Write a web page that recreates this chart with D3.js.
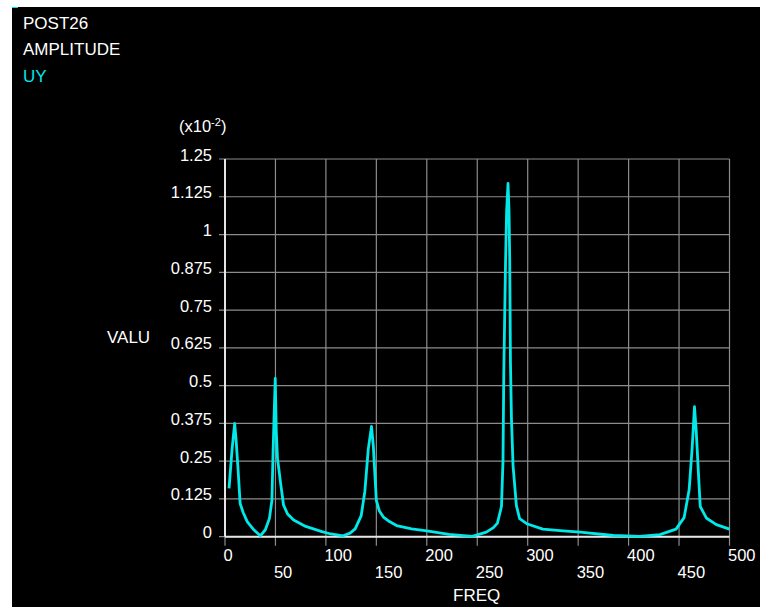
<!DOCTYPE html>
<html>
<head>
<meta charset="utf-8">
<script src="https://cdn.jsdelivr.net/npm/d3@7"></script>
<style>
  html, body { margin: 0; padding: 0; background: #fff; }
  svg { display: block; font-family: 'Liberation Sans', Arial, sans-serif; }
</style>
</head>
<body>
<div id="chart"></div>
<script>
// frequency (Hz) and UY amplitude (x10^-2)
const freq = [4, 7, 9.6, 11, 13, 15, 18, 22, 28, 35, 40, 44, 46.5, 47.5, 48.5, 49.8, 50.8, 52, 55, 58,
  62, 68, 80, 96, 105, 117, 124, 129, 135, 138.6, 142, 145.2, 147, 150, 153, 157, 163, 170, 185, 200,
  222, 245, 259, 266, 270, 274, 275.5, 276.3, 277.2, 278, 279.1, 280.5, 281.5, 282.2, 282.9, 283.9, 285.5,
  288.8, 292, 299, 315, 335, 352, 385, 411, 431, 447, 455, 460, 463, 465.3, 467, 469.6, 471, 477, 487, 500];
const amp = [0.16, 0.29, 0.375, 0.32, 0.22, 0.11, 0.08, 0.05, 0.025, 0.003, 0.023, 0.06, 0.12, 0.26, 0.38, 0.524, 0.35, 0.26, 0.18, 0.105,
  0.075, 0.055, 0.034, 0.017, 0.009, 0.003, 0.012, 0.026, 0.07, 0.15, 0.29, 0.365, 0.3, 0.12, 0.085, 0.065, 0.05, 0.037, 0.026, 0.019,
  0.008, 0.001, 0.015, 0.03, 0.045, 0.1, 0.25, 0.54, 0.73, 0.9, 1.076, 1.169, 1.076, 0.91, 0.58, 0.39, 0.234,
  0.103, 0.06, 0.043, 0.025, 0.019, 0.015, 0.004, 0.001, 0.007, 0.025, 0.063, 0.155, 0.295, 0.43, 0.35, 0.186, 0.1, 0.062, 0.04, 0.025];

const xTicks = [0, 50, 100, 150, 200, 250, 300, 350, 400, 450, 500];
const yTicks = [0, 0.125, 0.25, 0.375, 0.5, 0.625, 0.75, 0.875, 1, 1.125, 1.25];
const yTickLabels = ['0', '0.125', '0.25', '0.375', '0.5', '0.625', '0.75', '0.875', '1', '1.125', '1.25'];
const headerLines = ['POST26', 'AMPLITUDE', 'UY'];

const W = 760;
const H = 607;
const CYAN = '#00e8e8';
const FS = 16.5;

const svg = d3.select('#chart').append('svg')
  .attr('width', W)
  .attr('height', H);

// black plotting window (white margin top / left)
svg.append('rect')
  .attr('x', 12).attr('y', 7)
  .attr('width', W - 12).attr('height', H - 7)
  .attr('fill', '#000');

svg.append('line')
  .attr('x1', 12).attr('x2', 18).attr('y1', 7.5).attr('y2', 7.5)
  .attr('stroke', CYAN).attr('stroke-width', 1);

const x = d3.scaleLinear().domain([0, 500]).range([225, 729.5]);
const y = d3.scaleLinear().domain([0, 1.25]).range([536.7, 159]);

// grid
svg.append('g')
  .selectAll('line')
  .data(xTicks)
  .join('line')
  .attr('x1', (d) => x(d)).attr('x2', (d) => x(d))
  .attr('y1', y(1.25)).attr('y2', y(0) + 9)
  .attr('stroke', '#8c8c8c').attr('stroke-width', 1.2);

svg.append('g')
  .selectAll('line')
  .data(yTicks)
  .join('line')
  .attr('x1', x(0) - 6).attr('x2', x(500))
  .attr('y1', (d) => y(d)).attr('y2', (d) => y(d))
  .attr('stroke', '#8c8c8c').attr('stroke-width', 1.2);

// axes
svg.append('line')
  .attr('x1', x(0)).attr('x2', x(0))
  .attr('y1', y(1.25)).attr('y2', y(0))
  .attr('stroke', '#e6e6e6').attr('stroke-width', 2);
svg.append('line')
  .attr('x1', x(0)).attr('x2', x(500))
  .attr('y1', y(0)).attr('y2', y(0))
  .attr('stroke', '#e6e6e6').attr('stroke-width', 2);

// y labels
svg.append('g')
  .selectAll('text')
  .data(yTicks)
  .join('text')
  .attr('x', 212)
  .attr('y', (d) => y(d) + 1.5)
  .attr('text-anchor', 'end')
  .attr('fill', '#fff')
  .attr('font-size', FS)
  .text((d, i) => yTickLabels[i]);

// x labels, staggered in two rows
svg.append('g')
  .selectAll('text')
  .data(xTicks)
  .join('text')
  .attr('x', (d) => x(d) - 1.5)
  .attr('y', (d) => (d % 100 === 0 ? 560.5 : 578))
  .attr('fill', '#fff')
  .attr('font-size', FS)
  .text((d) => d);

svg.append('text')
  .attr('x', 453).attr('y', 601)
  .attr('fill', '#fff').attr('font-size', 17)
  .text('FREQ');

svg.append('text')
  .attr('x', 107).attr('y', 343)
  .attr('fill', '#fff').attr('font-size', 17)
  .text('VALU');

// exponent
const expo = svg.append('text')
  .attr('x', 179).attr('y', 132)
  .attr('fill', '#fff').attr('font-size', FS);
expo.append('tspan').text('(x10');
expo.append('tspan').attr('dy', -6).attr('font-size', 11).text('-2');
expo.append('tspan').attr('dy', 6).text(')');

// header
svg.append('g')
  .selectAll('text')
  .data(headerLines)
  .join('text')
  .attr('x', 23)
  .attr('y', (d, i) => 28.5 + i * 26.5)
  .attr('fill', (d, i) => (i === 2 ? CYAN : '#fff'))
  .attr('font-size', 17)
  .text((d) => d);

// response curve
const line = d3.line()
  .x((d) => x(d[0]))
  .y((d) => y(d[1]));

svg.append('path')
  .datum(d3.zip(freq, amp))
  .attr('d', line)
  .attr('fill', 'none')
  .attr('stroke', CYAN)
  .attr('stroke-width', 2.8)
  .attr('stroke-linejoin', 'round');
</script>
</body>
</html>
